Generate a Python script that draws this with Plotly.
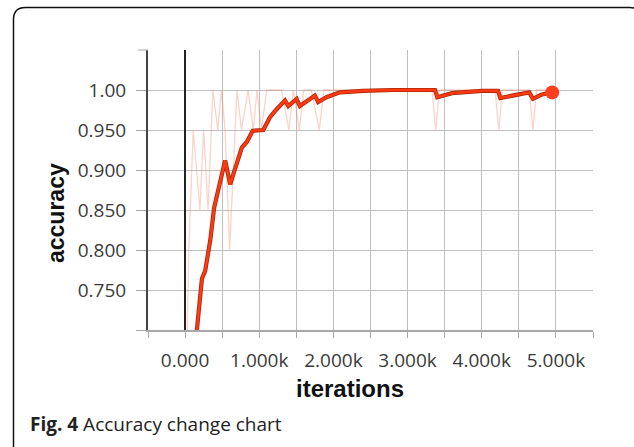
import plotly.graph_objects as go

# ---- data ----
raw_iter = [0, 50, 110, 200, 250, 310, 375, 440, 490, 540, 600, 700, 760, 850, 920, 970,
            1030, 1100, 1200, 1300, 1400, 1460, 1540, 1600, 1700, 1810, 1870, 2000, 2500,
            3000, 3330, 3380, 3430, 4000, 4180, 4230, 4280, 4640, 4690, 4740, 4950]
raw_acc = [0.55, 0.80, 0.95, 0.85, 0.95, 0.85, 1.00, 0.95, 1.00, 0.95, 0.80, 1.00, 0.95, 1.00, 0.95, 1.00,
           0.95, 1.00, 1.00, 1.00, 0.95, 1.00, 0.95, 1.00, 1.00, 0.95, 1.00, 1.00, 1.00,
           1.00, 1.00, 0.95, 1.00, 1.00, 1.00, 0.95, 1.00, 1.00, 0.95, 1.00, 1.00]

smooth_iter = [0, 227, 271, 339, 392, 473, 540, 608, 697, 765, 832, 912, 1055, 1145, 1235,
               1347, 1391, 1504, 1548, 1750, 1794, 1907, 2086, 2400, 2800, 3370, 3400, 3600,
               4000, 4220, 4250, 4500, 4640, 4690, 4800, 4950]
smooth_acc = [0.55, 0.764, 0.774, 0.812, 0.853, 0.887, 0.912, 0.882, 0.907, 0.928, 0.935, 0.949,
              0.950, 0.966, 0.976, 0.987, 0.980, 0.989, 0.980, 0.993, 0.985, 0.991, 0.997,
              0.999, 1.000, 1.000, 0.991, 0.996, 0.999, 0.999, 0.990, 0.995, 0.997, 0.989,
              0.994, 0.997]

last_iter = [4950]
last_acc = [0.997]

x_tick_vals = [-500, 0, 500, 1000, 1500, 2000, 2500, 3000, 3500, 4000, 4500, 5000, 5500]
x_tick_text = ["", "0.000", "", "1.000k", "", "2.000k", "", "3.000k", "", "4.000k", "", "5.000k", ""]
y_tick_vals = [0.70, 0.75, 0.80, 0.85, 0.90, 0.95, 1.00]
y_tick_text = ["", "0.750", "0.800", "0.850", "0.900", "0.950", "1.00"]

# ---- figure ----
W, H = 634, 447
L, R, T, B = 148, 41, 50, 117
pw, ph = W - L - R, H - T - B


def px(x):
    return (x - L) / pw


def py(y):
    return (H - B - y) / ph


fig = go.Figure()
fig.add_trace(go.Scatter(x=raw_iter, y=raw_acc, mode="lines",
                         line=dict(color="rgba(245,140,110,0.38)", width=1.3),
                         hoverinfo="skip", showlegend=False))
fig.add_trace(go.Scatter(x=smooth_iter, y=smooth_acc, mode="lines",
                         line=dict(color="#a8280a", width=4.2),
                         hoverinfo="skip", showlegend=False))
fig.add_trace(go.Scatter(x=smooth_iter, y=smooth_acc, mode="lines",
                         line=dict(color="#ff3a12", width=2.5),
                         showlegend=False))
fig.add_trace(go.Scatter(x=last_iter, y=last_acc, mode="markers",
                         marker=dict(color="#ff3f1c", size=14),
                         showlegend=False))

tick_font = dict(family="Open Sans", size=19, color="#3a3a3a")

fig.update_xaxes(range=[-500, 5500], tickmode="array", tickvals=x_tick_vals,
                 ticktext=x_tick_text, showgrid=True, gridcolor="#bfbfbf", gridwidth=1,
                 zeroline=True, zerolinecolor="#222222", zerolinewidth=2,
                 showline=True, linecolor="#a8a8a8", linewidth=2,
                 ticks="outside", ticklen=6, tickcolor="#a8a8a8",
                 tickfont=tick_font, ticklabelstandoff=6)
fig.update_yaxes(range=[0.70, 1.05], tickmode="array", tickvals=y_tick_vals,
                 ticktext=y_tick_text, showgrid=True, gridcolor="#bfbfbf", gridwidth=1,
                 zeroline=False, showline=True, linecolor="#444444", linewidth=2,
                 ticks="outside", ticklen=10, tickcolor="#a8a8a8",
                 tickfont=tick_font, ticklabelstandoff=6)

# rounded frame
x0, x1, y0, y1, r = 13.5, 642, 7.5, 448, 12
path = (f"M {px(x0)} {py(y1)} L {px(x0)} {py(y0 + r)} "
        f"Q {px(x0)} {py(y0)} {px(x0 + r)} {py(y0)} "
        f"L {px(x1 - r)} {py(y0)} Q {px(x1)} {py(y0)} {px(x1)} {py(y0 + r)} "
        f"L {px(x1)} {py(y1)}")
shapes = [
    dict(type="path", xref="paper", yref="paper", path=path,
         line=dict(color="#111111", width=1.5)),
    dict(type="line", xref="paper", yref="paper", x0=px(L - 10), x1=px(L), y0=1, y1=1,
         line=dict(color="#a8a8a8", width=1)),
]

annotations = [
    dict(text="<b>accuracy</b>", xref="paper", yref="paper", x=px(56), y=py(213),
         textangle=-90, showarrow=False, xanchor="center", yanchor="middle",
         font=dict(family="Liberation Sans", size=23, color="#111111")),
    dict(text="<b>iterations</b>", xref="paper", yref="paper", x=px(350), y=py(388),
         showarrow=False, xanchor="center", yanchor="middle",
         font=dict(family="Liberation Sans", size=24, color="#111111")),
    dict(text="<b>Fig. 4</b> Accuracy change chart", xref="paper", yref="paper",
         x=px(28), y=py(424), showarrow=False, xanchor="left", yanchor="middle",
         font=dict(family="Open Sans", size=19, color="#222222")),
]

fig.update_layout(width=W, height=H, margin=dict(l=L, r=R, t=T, b=B, pad=0),
                  paper_bgcolor="white", plot_bgcolor="white",
                  shapes=shapes, annotations=annotations, showlegend=False)

fig.write_html("out.html", config={"displayModeBar": False},
               post_script="document.body.style.margin='0';document.body.style.overflow='hidden';")
